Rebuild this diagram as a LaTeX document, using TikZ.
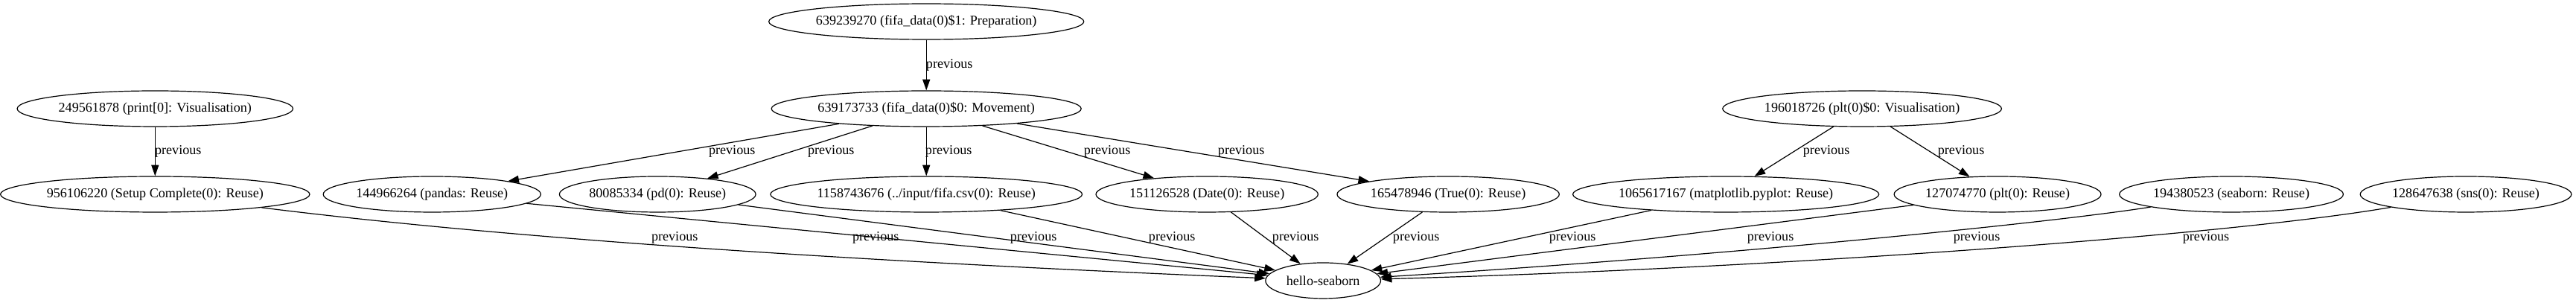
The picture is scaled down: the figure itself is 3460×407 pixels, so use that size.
\documentclass[tikz,border=0pt]{standalone}
\usepackage{fontspec}
\setmainfont{Liberation Serif}
\usepackage{tikz}
\usetikzlibrary{arrows.meta,positioning,shapes.geometric}
\newcommand{\gvfont}{\fontsize{13.6}{16}\selectfont}
\tikzset{
  gvnode/.style={
    draw=black, ellipse, line width=0.9pt,
    inner xsep=1pt, inner ysep=0pt, minimum height=36pt,
    font=\gvfont
  },
  gvedge/.style={
    draw=black, line width=0.9pt,
    -{Triangle[length=11pt,width=7.5pt]}
  },
  gvlabel/.style={inner sep=0pt, font=\gvfont}
}

\begin{document}
\begin{tikzpicture}[x=0.75pt,y=-0.75pt]
  \fill[white] (0,0) rectangle (3460,407);
  % upper ranks
  \node[gvnode] (prep) at (1244,29) {639239270 (fifa\_data(0)\$1: Preparation)};
  \node[gvnode] (move) at (1244,146) {639173733 (fifa\_data(0)\$0: Movement)};
  \node[gvnode] (printvis) at (208,146) {249561878 (print[0]: Visualisation)};
  \node[gvnode] (pltvis) at (2501,146) {196018726 (plt(0)\$0: Visualisation)};
  % reuse rank
  \node[gvnode] (setup) at (208,261) {956106220 (Setup Complete(0): Reuse)};
  \node[gvnode] (pandas) at (580,261) {144966264 (pandas: Reuse)};
  \node[gvnode] (pd) at (883,261) {80085334 (pd(0): Reuse)};
  \node[gvnode] (csv) at (1244,261) {1158743676 (../input/fifa.csv(0): Reuse)};
  \node[gvnode] (date) at (1621,261) {151126528 (Date(0): Reuse)};
  \node[gvnode] (truenode) at (1945,261) {165478946 (True(0): Reuse)};
  \node[gvnode] (mpl) at (2318,261) {1065617167 (matplotlib.pyplot: Reuse)};
  \node[gvnode] (plt) at (2683,261) {127074770 (plt(0): Reuse)};
  \node[gvnode] (seaborn) at (2997,261) {194380523 (seaborn: Reuse)};
  \node[gvnode] (sns) at (3312,261) {128647638 (sns(0): Reuse)};
  % notebook
  \node[gvnode,minimum width=116pt] (hello) at (1777,377) {hello-seaborn};

  \draw[gvedge] (prep) -- (move);
  \draw[gvedge] (printvis) -- (setup);
  \foreach \child in {pandas,pd,csv,date,truenode}
    \draw[gvedge] (move) -- (\child);
  \draw[gvedge] (pltvis) -- (mpl);
  \draw[gvedge] (pltvis) -- (plt);

  \draw[gvedge] (setup) .. controls (600,310) and (1000,345) .. (hello);
  \foreach \child in {pandas,pd,csv,date,truenode,mpl,plt}
    \draw[gvedge] (\child) -- (hello);
  \draw[gvedge] (seaborn) .. controls (2750,300) and (2300,345) .. (hello);
  \draw[gvedge] (sns) .. controls (3000,315) and (2400,360) .. (hello);

  % edge labels
  \node[gvlabel] (lprep) at (1275,87) {previous};
  \node[gvlabel] (lprint) at (239,203) {previous};
  \node[gvlabel] (lpandas) at (983,203) {previous};
  \node[gvlabel] (lpd) at (1116,203) {previous};
  \node[gvlabel] (lcsv) at (1274,203) {previous};
  \node[gvlabel] (ldate) at (1487,203) {previous};
  \node[gvlabel] (ltrue) at (1667,203) {previous};
  \node[gvlabel] (lmpl) at (2453,203) {previous};
  \node[gvlabel] (lplt) at (2634,203) {previous};
  \node[gvlabel] (hsetup) at (906,319) {previous};
  \node[gvlabel] (hpandas) at (1176,319) {previous};
  \node[gvlabel] (hpd) at (1388,319) {previous};
  \node[gvlabel] (hcsv) at (1574,319) {previous};
  \node[gvlabel] (hdate) at (1740,319) {previous};
  \node[gvlabel] (htrue) at (1902,319) {previous};
  \node[gvlabel] (hmpl) at (2112,319) {previous};
  \node[gvlabel] (hplt) at (2378,319) {previous};
  \node[gvlabel] (hseaborn) at (2655,319) {previous};
  \node[gvlabel] (hsns) at (2963,319) {previous};
\end{tikzpicture}
\end{document}
